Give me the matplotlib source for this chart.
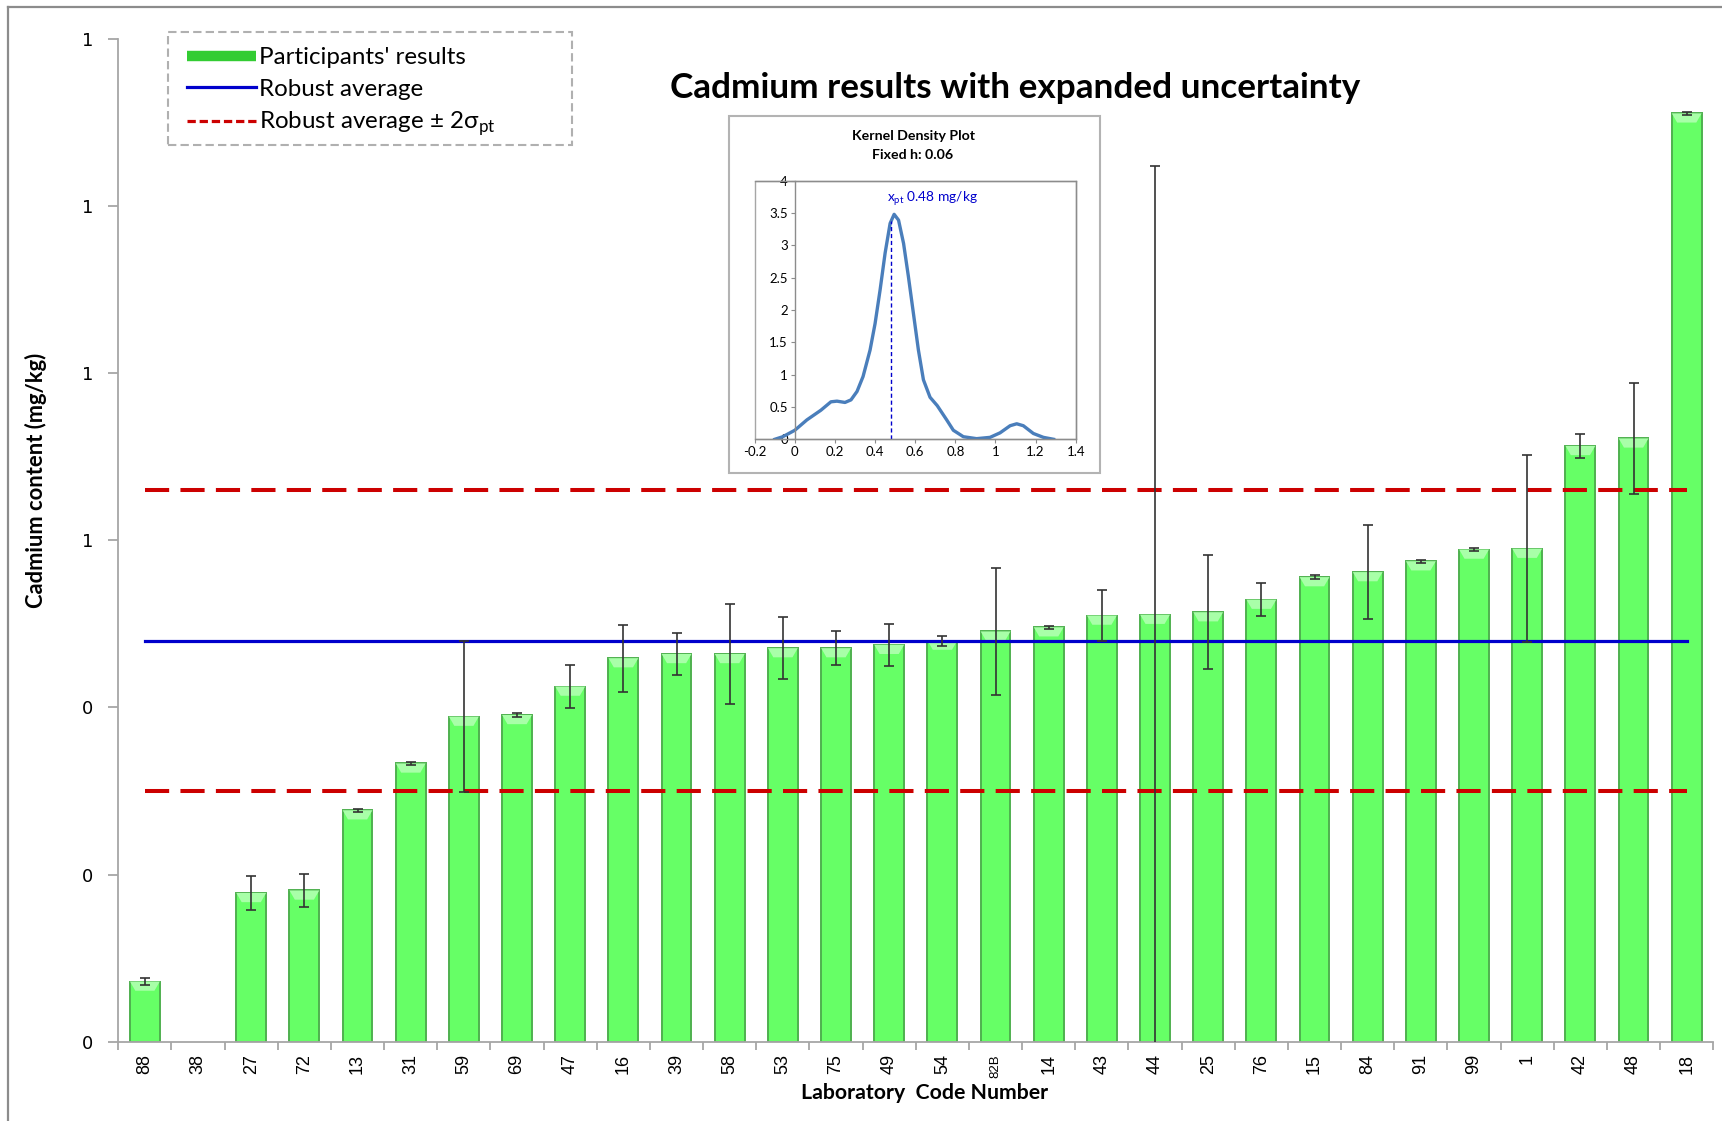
import numpy as np
import matplotlib
matplotlib.use('Agg')
import matplotlib.pyplot as plt
from matplotlib.lines import Line2D
from matplotlib.patches import Rectangle, Polygon
from matplotlib.ticker import FormatStrFormatter, FuncFormatter

plt.rcParams['font.family'] = ['Lato', 'DejaVu Sans']

# participants' results (mg/kg) with expanded uncertainty, sorted as in the report
lab_codes = ['88', '38', '27', '72', '13', '31', '59', '69', '47', '16',
             '39', '58', '53', '75', '49', '54', '82B', '14', '43', '44',
             '25', '76', '15', '84', '91', '99', '1', '42', '48', '18']
results = [0.072, np.nan, 0.178, 0.181, 0.277, 0.333, 0.389, 0.391, 0.425, 0.459,
           0.464, 0.464, 0.471, 0.471, 0.475, 0.480, 0.491, 0.496, 0.510, 0.511,
           0.514, 0.529, 0.556, 0.562, 0.575, 0.589, 0.590, 0.713, 0.722, 1.111]
uncertainty = [0.004, np.nan, 0.020, 0.020, 0.002, 0.002, 0.090, 0.002, 0.026, 0.040,
               0.025, 0.060, 0.037, 0.020, 0.025, 0.006, 0.076, 0.002, 0.031, 0.537,
               0.068, 0.020, 0.002, 0.056, 0.002, 0.002, 0.112, 0.014, 0.066, 0.002]
robust_avg = 0.48
sigma_pt = 0.09

# kernel density curve
kde_h = 0.06
kde_x = [-0.10, -0.06, 0.00, 0.06, 0.13, 0.18, 0.21, 0.25, 0.28, 0.31,
         0.34, 0.375, 0.40, 0.425, 0.45, 0.475, 0.495, 0.517, 0.542, 0.566,
         0.591, 0.616, 0.641, 0.674, 0.71, 0.757, 0.79, 0.84, 0.906, 0.973,
         1.023, 1.073, 1.106, 1.139, 1.189, 1.239, 1.29]
kde_y = [0.00, 0.04, 0.14, 0.30, 0.45, 0.58, 0.59, 0.57, 0.61, 0.74,
         0.97, 1.38, 1.79, 2.31, 2.88, 3.34, 3.48, 3.39, 3.03, 2.52,
         1.95, 1.38, 0.92, 0.65, 0.52, 0.30, 0.14, 0.04, 0.01, 0.03,
         0.10, 0.21, 0.24, 0.21, 0.09, 0.03, 0.00]

W, H = 1722, 1121
fig = plt.figure(figsize=(W / 100, H / 100), dpi=100)

ax = fig.add_axes([118.3 / W, 1 - 1041.7 / H, 1595 / W, 1002.7 / H])
x = np.arange(len(lab_codes))
bw = 0.56
ax.bar(x, results, width=bw, color='#66ff66', edgecolor='#4fb04f', linewidth=1.4, zorder=2)
# light bevel at the top of each bar (Excel style)
for xi, v in zip(x, results):
    if np.isnan(v):
        continue
    d = 0.011
    ax.add_patch(Polygon([(xi - bw / 2, v), (xi + bw / 2, v),
                          (xi + bw / 2 - 0.1, v - d), (xi - bw / 2 + 0.1, v - d)],
                         closed=True, facecolor='#a8ffa8', edgecolor='none', zorder=2.5))
ax.errorbar(x, results, yerr=uncertainty, fmt='none', ecolor='#333333',
            elinewidth=1.2, capsize=3.6, capthick=1.2, zorder=4)
ax.plot([x[0], x[-1]], [robust_avg] * 2, color='#0000cc', lw=2.3, zorder=3)
for s in (-2, 2):
    ax.plot([x[0], x[-1]], [robust_avg + s * sigma_pt] * 2, color='#cc0000',
            lw=2.9, dashes=(6, 2.8), zorder=3)

ax.set_xlim(-0.5, len(lab_codes) - 0.5)
ax.set_ylim(0, 1.2)
ax.set_yticks(np.arange(0, 1.21, 0.2))
ax.yaxis.set_major_formatter(FormatStrFormatter('%.0f'))
ax.set_xticks(x)
ax.set_xticklabels(lab_codes, rotation=90, fontsize=13, family='Liberation Sans')
ax.set_xticks(np.arange(-0.5, len(lab_codes)), minor=True)
ax.tick_params(axis='x', which='major', length=0, pad=9)
ax.tick_params(axis='x', which='minor', length=6, color='#a6a6a6', width=1.3)
ax.tick_params(axis='y', length=7, color='#a6a6a6', width=1.3, labelsize=13, pad=11)
for t in ax.get_yticklabels():
    t.set_family('DejaVu Sans')
for t in ax.get_xticklabels():
    if t.get_text() == '82B':
        t.set_fontsize(9.5)
for sp in ['top', 'right']:
    ax.spines[sp].set_visible(False)
for sp in ['left', 'bottom']:
    ax.spines[sp].set_color('#a6a6a6')
    ax.spines[sp].set_linewidth(1.3)

fig.text(1015 / W, 1 - 88 / H, 'Cadmium results with expanded uncertainty',
         fontsize=25.3, fontweight='bold', ha='center', va='center')
fig.text(36 / W, 1 - 480 / H, 'Cadmium content (mg/kg)', rotation=90,
         fontsize=15.8, fontweight='bold', ha='center', va='center')
fig.text(925 / W, 1 - 1093 / H, 'Laboratory  Code Number',
         fontsize=15.3, fontweight='bold', ha='center', va='center')

# legend: dashed box drawn separately so it can match the reference size
fig.add_artist(Rectangle((168 / W, 1 - 145 / H), 404 / W, 113 / H,
                         transform=fig.transFigure, fill=False, edgecolor='#b0b0b0',
                         lw=1.5, linestyle=(0, (4, 2)), zorder=4))
handles = [Line2D([], [], color='#33cc33', lw=7.5, solid_capstyle='butt'),
           Line2D([], [], color='#0000cc', lw=2.3),
           Line2D([], [], color='#cc0000', lw=2.3, dashes=(2.6, 1.2))]
labels = ["Participants' results", 'Robust average',
          r'Robust average ± 2σ$_{\mathregular{pt}}$']
leg = fig.legend(handles, labels, loc='upper left',
                 bbox_to_anchor=(187 / W, 1 - 47.5 / H), borderaxespad=0, borderpad=0,
                 fontsize=17.4, handlelength=2.85, handletextpad=0.12, labelspacing=0.42,
                 frameon=False)

# outer chart border (clipped at right/bottom)
fig.add_artist(Line2D([8 / W, 8 / W], [0, 1 - 7 / H], color='#8c8c8c', lw=1.6))
fig.add_artist(Line2D([8 / W, 1], [1 - 7 / H, 1 - 7 / H], color='#8c8c8c', lw=1.6))

# inset: kernel density plot
fig.add_artist(Rectangle((729.3 / W, 1 - 472.7 / H), 370.7 / W, 356.7 / H,
                         transform=fig.transFigure, facecolor='white',
                         edgecolor='#b3b3b3', lw=1.5, zorder=5))
fig.text(913 / W, 1 - 136 / H, 'Kernel Density Plot', fontsize=10.2,
         fontweight='bold', ha='center', va='center', zorder=7)
fig.text(913 / W, 1 - 155 / H, f'Fixed h: {kde_h}', fontsize=10.2,
         fontweight='bold', ha='center', va='center', zorder=7)

ins = fig.add_axes([754.7 / W, 1 - 439.3 / H, 321 / W, 258.6 / H], zorder=6)
ins.plot(kde_x, kde_y, color='#4a7ebb', lw=2.4, solid_joinstyle='round')
ins.plot([robust_avg] * 2, [0, np.interp(robust_avg, kde_x, kde_y)],
         color='#0000cc', lw=1, dashes=(3, 2))
ins.text(0.46, 3.73, r'x$_{\mathregular{pt}}$ ' + f'{robust_avg} mg/kg',
         color='#0000cc', fontsize=9.9, va='center')
ins.set_xlim(-0.2, 1.4)
ins.set_ylim(0, 4)
ins.set_xticks(np.arange(-0.2, 1.41, 0.2))
ins.set_yticks(np.arange(0, 4.01, 0.5))
ins.xaxis.set_major_formatter(FuncFormatter(lambda v, p: f'{round(v, 2):g}'))
ins.yaxis.set_major_formatter(FuncFormatter(lambda v, p: f'{round(v, 2):g}'))
ins.spines['left'].set_position(('data', 0))
for sp in ins.spines.values():
    sp.set_color('#8c8c8c')
    sp.set_linewidth(1)
ins.add_patch(Rectangle((0, 0), 1, 1, transform=ins.transAxes, fill=False,
                        edgecolor='#a6a6a6', lw=1, clip_on=False))
ins.tick_params(labelsize=9.5, length=3, color='#8c8c8c', pad=2)

fig.savefig('out.png', dpi=100)
